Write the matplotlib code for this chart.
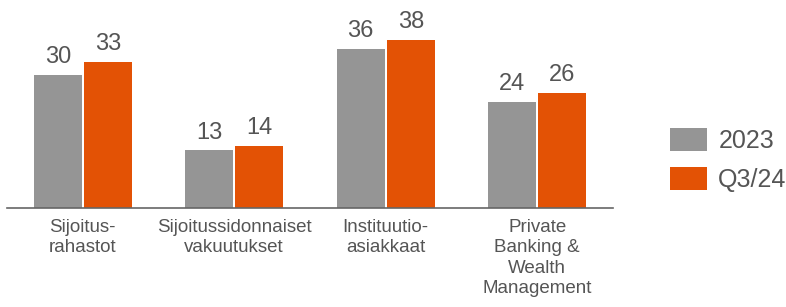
import numpy as np
import matplotlib.pyplot as plt

categories = ["Sijoitus-\nrahastot", "Sijoitussidonnaiset\nvakuutukset",
              "Instituutio-\nasiakkaat", "Private\nBanking &\nWealth\nManagement"]
values_2023 = [30, 13, 36, 24]
values_q3 = [33, 14, 38, 26]
series_names = ["2023", "Q3/24"]

grey = "#959595"
orange = "#E35205"
text_col = "#555555"

fig = plt.figure(figsize=(7.86, 3.07), dpi=100)
ax = fig.add_axes([7 / 786, 99 / 307, 606 / 786, 208 / 307])

x = np.arange(len(categories))
w = 0.32
b1 = ax.bar(x - 0.165, values_2023, w, color=grey, label=series_names[0])
b2 = ax.bar(x + 0.165, values_q3, w, color=orange, label=series_names[1])

for bars in (b1, b2):
    ax.bar_label(bars, padding=5, fontsize=17, color=text_col, family="Liberation Sans")

ax.set_xlim(-0.5, 3.5)
ax.set_ylim(0, 47)
ax.set_yticks([])
ax.set_xticks(x)
ax.set_xticklabels(categories, fontsize=13.5, color=text_col, family="Liberation Sans",
                   linespacing=1.25)
ax.tick_params(axis="x", length=0, pad=8)
for s in ["top", "right", "left"]:
    ax.spines[s].set_visible(False)
ax.spines["bottom"].set_color("#666666")
ax.spines["bottom"].set_linewidth(1.2)

fig.legend(handles=[b1, b2], loc="center left", bbox_to_anchor=(647 / 786, 1 - 160 / 307),
           frameon=False, labelcolor=text_col, handlelength=1.5, handleheight=1.05,
           handletextpad=0.45, labelspacing=0.55, prop={"family": "Liberation Sans", "size": 18})

fig.savefig("out.png", dpi=100)
